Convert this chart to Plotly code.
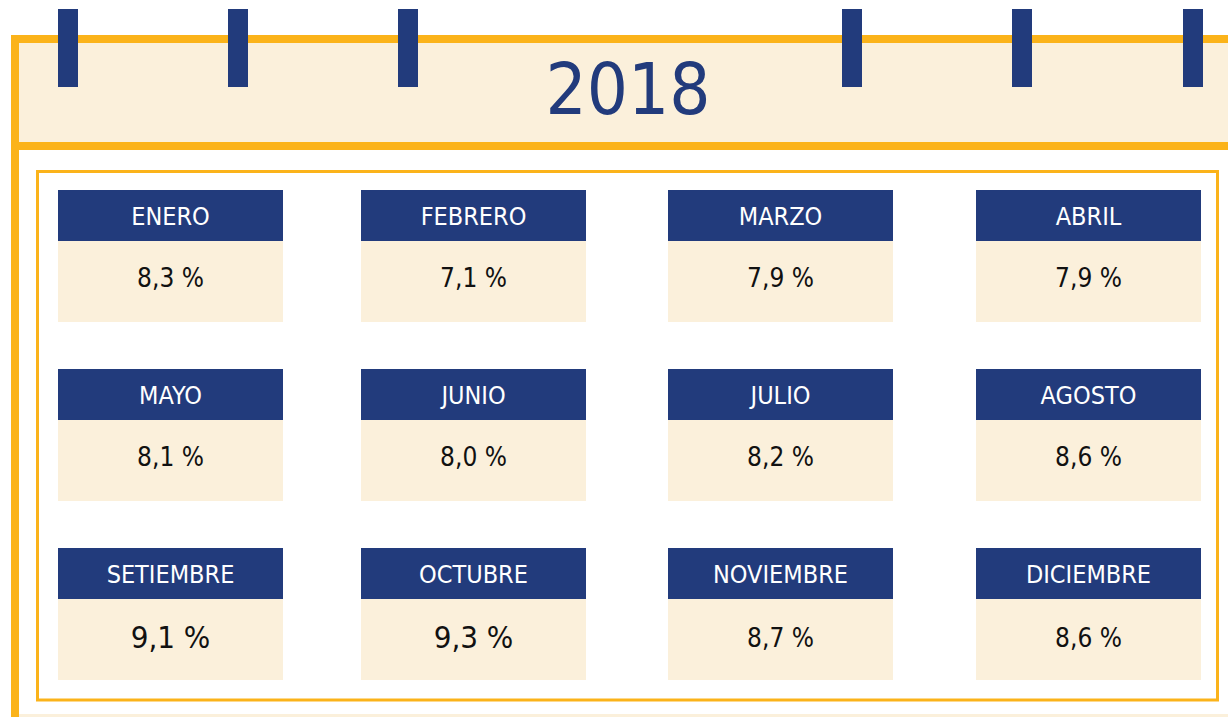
import plotly.graph_objects as go

# ---- data ----
year_label = "2018"
months = ["ENERO", "FEBRERO", "MARZO", "ABRIL",
          "MAYO", "JUNIO", "JULIO", "AGOSTO",
          "SETIEMBRE", "OCTUBRE", "NOVIEMBRE", "DICIEMBRE"]
values = [8.3, 7.1, 7.9, 7.9,
          8.1, 8.0, 8.2, 8.6,
          9.1, 9.3, 8.7, 8.6]
value_labels = [f"{v:.1f}".replace(".", ",") + " %" for v in values]

# ---- layout / style ----
W, H = 1228, 717
NAVY = "#223B7C"
ORANGE = "#FBB31A"
CREAM = "#FBF0DB"
FONT = "'DejaVu Sans Condensed', 'DejaVu Sans', sans-serif"

col_x = [58, 361, 668, 976]
row_y = [190, 369, 548]
card_w = 225
head_h = 51
body_h = 81
ring_x = [58, 228, 398, 842, 1012, 1183]

shapes = []
def rect(x0, y0, x1, y1, fill, line_color=None, line_w=0, layer="below"):
    shapes.append(dict(type="rect", xref="x", yref="y", x0=x0, y0=y0, x1=x1, y1=y1,
                       fillcolor=fill, line=dict(color=line_color or fill, width=line_w),
                       layer=layer))

# outer calendar frame
rect(19, 43, W, 142, CREAM)
rect(11, 35, W, 43, ORANGE)
rect(11, 35, 19, H, ORANGE)
rect(19, 142, W, 150, ORANGE)
rect(19, 714, W, H, CREAM)
# inner frame
shapes.append(dict(type="rect", xref="x", yref="y", x0=37.5, y0=171.5, x1=1217.5, y1=700,
                   fillcolor="rgba(0,0,0,0)", line=dict(color=ORANGE, width=3), layer="below"))
# rings
for rx in ring_x:
    rect(rx, 9, rx + 20, 87, NAVY)

lab_x, lab_y, val_x, val_y = [], [], [], []
for i, m in enumerate(months):
    r, c = divmod(i, 4)
    x0, y0 = col_x[c], row_y[r]
    rect(x0, y0 + head_h, x0 + card_w, y0 + head_h + body_h, CREAM)
    rect(x0, y0, x0 + card_w, y0 + head_h, NAVY)
    lab_x.append(x0 + card_w / 2)
    lab_y.append(y0 + head_h / 2 + 3)
    val_x.append(x0 + card_w / 2)
    val_y.append(y0 + head_h + 39.5 + (2 if r == 2 else 0))

big = {"SETIEMBRE", "OCTUBRE"}
val_sizes = [31 if m in big else 26 for m in months]

fig = go.Figure()
fig.add_trace(go.Scatter(x=lab_x, y=lab_y, mode="text", text=months,
                         textposition="middle center",
                         textfont=dict(family=FONT, size=25, color="white"),
                         hoverinfo="skip", showlegend=False))
fig.add_trace(go.Scatter(x=val_x, y=val_y, mode="text", text=value_labels,
                         textposition="middle center",
                         textfont=dict(family=FONT, size=val_sizes, color="#111111"),
                         hoverinfo="skip", showlegend=False))
fig.add_trace(go.Scatter(x=[628], y=[96], mode="text", text=[year_label],
                         textposition="middle center",
                         textfont=dict(family=FONT, size=72, color=NAVY),
                         hoverinfo="skip", showlegend=False))

fig.update_layout(
    width=W, height=H, margin=dict(l=0, r=0, t=0, b=0),
    paper_bgcolor="white", plot_bgcolor="white",
    shapes=shapes,
    xaxis=dict(range=[0, W], visible=False, fixedrange=True),
    yaxis=dict(range=[H, 0], visible=False, fixedrange=True),
)
fig.write_html("out.html", config={"displayModeBar": False},
               post_script="document.body.style.margin='0';document.body.style.overflow='hidden';")
